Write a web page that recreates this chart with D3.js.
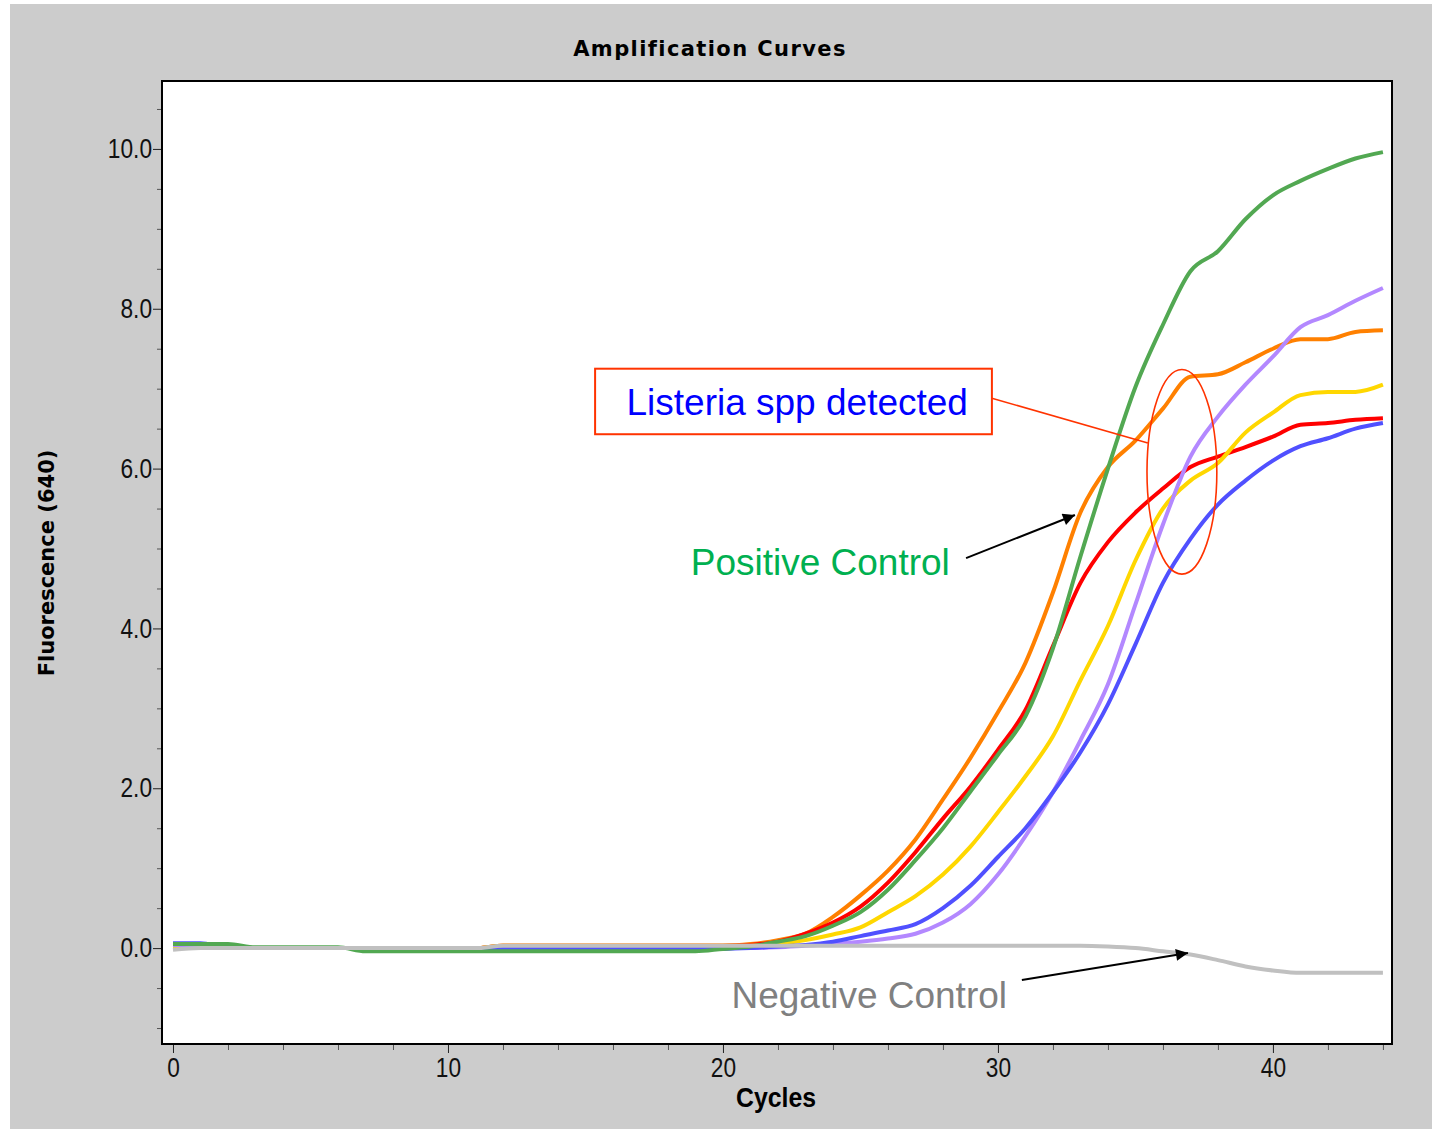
<!DOCTYPE html>
<html>
<head>
<meta charset="utf-8">
<script src="https://cdn.jsdelivr.net/npm/d3@7"></script>
<style>
  body { margin: 0; background: #fff; }
  .tick text { font-family: 'Liberation Sans', Arial, sans-serif; font-size: 27px; fill: #111; }
</style>
</head>
<body>
<div id="chart"></div>
<script>
// cycle numbers and fluorescence (640) readings per sample
var cycles = [0,1,2,3,4,5,6,7,8,9,10,11,12,13,14,15,16,17,18,19,20,21,22,23,24,25,26,27,28,29,30,31,32,33,34,35,36,37,38,39,40,41,42,43,44];

var negativeControl = [-0.02,0,0,0,0,0,0,0,0,0,0,0,0.03,0.03,0.03,0.03,0.03,0.03,0.03,0.03,0.03,0.03,0.03,0.03,0.03,0.03,0.03,0.03,0.03,0.03,0.03,0.03,0.03,0.03,0.02,0,-0.04,-0.08,-0.15,-0.23,-0.28,-0.31,-0.31,-0.31,-0.31];
var sampleBlue = [0.06,0.06,0,0,0,0,0,0,0,0,0,0,0,0,-0.01,-0.01,-0.01,-0.01,0,-0.01,-0.01,0,0.02,0.04,0.08,0.15,0.22,0.3,0.5,0.78,1.14,1.5,1.95,2.45,3.05,3.8,4.57,5.12,5.55,5.85,6.1,6.28,6.38,6.5,6.57];
var sampleViolet = [0.04,0.04,0,0,0,0,0,0,0,0,0,0,-0.01,-0.01,0,0,0,0,0,0,0,0,0.01,0.03,0.05,0.08,0.12,0.18,0.32,0.55,0.92,1.4,1.95,2.6,3.3,4.3,5.3,6.15,6.65,7.05,7.4,7.77,7.92,8.1,8.26];
var sampleYellow = [0,0,0,0,0,0,0,0,0,0,0,0,0.03,0.03,0.03,0.03,0.03,0.03,0.03,0.03,0.03,0.03,0.05,0.1,0.17,0.26,0.45,0.65,0.92,1.27,1.7,2.15,2.65,3.35,4.03,4.85,5.5,5.85,6.07,6.45,6.7,6.92,6.96,6.96,7.05];
var sampleRed = [0,0,0,0,0,0,0,0,0,0,0,0,0.03,0.03,0.03,0.03,0.03,0.03,0.03,0.03,0.03,0.04,0.08,0.18,0.32,0.52,0.82,1.2,1.62,2.02,2.48,2.98,3.78,4.57,5.08,5.45,5.75,6.02,6.15,6.27,6.4,6.55,6.57,6.61,6.63];
var sampleOrange = [0,0,0,0,0,0,0,0,0,0,0,0,0.03,0.03,0.03,0.03,0.03,0.03,0.03,0.03,0.03,0.05,0.1,0.18,0.39,0.66,0.97,1.36,1.86,2.38,2.95,3.57,4.45,5.45,6.02,6.35,6.75,7.15,7.18,7.33,7.5,7.62,7.62,7.71,7.73];
var positiveControl = [0.05,0.05,0.05,0.01,0.01,0.01,0.01,-0.04,-0.04,-0.04,-0.04,-0.04,-0.04,-0.04,-0.04,-0.04,-0.04,-0.04,-0.04,-0.04,-0.01,0.02,0.08,0.15,0.28,0.45,0.73,1.1,1.5,1.96,2.42,2.9,3.75,4.9,6.0,7.02,7.8,8.47,8.72,9.12,9.42,9.6,9.75,9.88,9.96];

// drawing order: later series sit on top
var seriesNames = ["Sample 1", "Sample 2", "Sample 3", "Sample 4", "Sample 5", "Positive Control", "Negative Control"];
var seriesValues = [sampleOrange, sampleRed, sampleYellow, sampleViolet, sampleBlue, positiveControl, negativeControl];
var seriesColors = ["#ff8000", "#ff0000", "#ffd700", "#b388ff", "#5050ff", "#52a852", "#c0c0c0"];

var yMajorTicks = [0, 2, 4, 6, 8, 10];
var xMajorTicks = [0, 10, 20, 30, 40];

var margin = {top: 81, right: 45, bottom: 88, left: 162},
    width = 1437 - margin.left - margin.right,
    height = 1132 - margin.top - margin.bottom;

var svg = d3.select("#chart").append("svg")
    .attr("width", 1437)
    .attr("height", 1132);

// grey window background
svg.append("rect")
    .attr("x", 10).attr("y", 4)
    .attr("width", 1422).attr("height", 1125)
    .attr("fill", "#cccccc");

svg.append("text")
    .attr("x", 710).attr("y", 56)
    .attr("text-anchor", "middle")
    .style("font-family", "'DejaVu Sans', sans-serif")
    .style("font-weight", "bold")
    .style("font-size", "21px")
    .style("letter-spacing", "1.4px")
    .text("Amplification Curves");

var g = svg.append("g")
    .attr("transform", "translate(" + margin.left + "," + margin.top + ")");

g.append("rect")
    .attr("width", width).attr("height", height)
    .attr("fill", "#fff");

var x = d3.scaleLinear().domain([-0.4, 44.33]).range([0, width]);
var y = d3.scaleLinear().domain([-1.2, 10.85]).range([height, 0]);

// minor ticks first, then majors with labels
var yMinor = d3.range(-1, 10.6, 0.5).filter(function(v) { return v % 2 !== 0; });
var xMinor = d3.range(0, 45, 2).filter(function(v) { return v % 10 !== 0; });

g.append("g").attr("class", "y minor")
    .call(d3.axisLeft(y).tickValues(yMinor).tickSize(5).tickFormat(""));
g.append("g").attr("class", "y axis")
    .call(d3.axisLeft(y).tickValues(yMajorTicks).tickSize(9).tickPadding(1).tickFormat(d3.format(".1f")));
g.append("g").attr("class", "x minor")
    .attr("transform", "translate(0," + height + ")")
    .call(d3.axisBottom(x).tickValues(xMinor).tickSize(6).tickFormat(""));
g.append("g").attr("class", "x axis")
    .attr("transform", "translate(0," + height + ")")
    .call(d3.axisBottom(x).tickValues(xMajorTicks).tickSize(9).tickPadding(5).tickFormat(d3.format("d")));

g.selectAll(".domain").remove();
g.selectAll(".minor line").attr("stroke", "#555");
g.selectAll(".axis line").attr("stroke", "#222");

// squeeze the tick labels to look like the narrow instrument font
g.selectAll(".axis text").each(function() {
    var w = this.getComputedTextLength();
    d3.select(this).attr("textLength", w * 0.84).attr("lengthAdjust", "spacingAndGlyphs");
});

var line = d3.line()
    .curve(d3.curveMonotoneX)
    .x(function(d) { return x(d.cycle); })
    .y(function(d) { return y(d.value); });

var curves = seriesNames.map(function(name, i) {
    return {
        name: name,
        color: seriesColors[i],
        values: cycles.map(function(c, j) { return {cycle: c, value: seriesValues[i][j]}; })
    };
});

g.selectAll(".curve")
    .data(curves)
    .enter().append("path")
    .attr("class", "curve")
    .attr("d", function(d) { return line(d.values); })
    .attr("fill", "none")
    .attr("stroke", function(d) { return d.color; })
    .attr("stroke-width", 4);

// plot frame
g.append("rect")
    .attr("width", width).attr("height", height)
    .attr("fill", "none")
    .attr("stroke", "#000")
    .attr("stroke-width", 2);

svg.append("text")
    .attr("transform", "translate(54,563) rotate(-90)")
    .attr("text-anchor", "middle")
    .style("font-family", "'DejaVu Sans', sans-serif")
    .style("font-weight", "bold")
    .style("font-size", "21px")
    .text("Fluorescence (640)");

svg.append("text")
    .attr("x", 776).attr("y", 1107)
    .attr("text-anchor", "middle")
    .attr("textLength", 80)
    .attr("lengthAdjust", "spacingAndGlyphs")
    .style("font-family", "'Liberation Sans', Arial, sans-serif")
    .style("font-weight", "bold")
    .style("font-size", "27px")
    .text("Cycles");

// annotations, placed in data units
svg.append("defs").append("marker")
    .attr("id", "arrow")
    .attr("viewBox", "0 0 10 10")
    .attr("refX", 10).attr("refY", 5)
    .attr("markerWidth", 16).attr("markerHeight", 12)
    .attr("markerUnits", "userSpaceOnUse")
    .attr("orient", "auto")
    .append("path")
    .attr("d", "M0,0L10,5L0,10z")
    .attr("fill", "#000");

var annoFont = "'Liberation Sans', Arial, sans-serif";

g.append("rect")
    .attr("x", x(15.35)).attr("y", y(7.25))
    .attr("width", x(29.78) - x(15.35))
    .attr("height", y(6.43) - y(7.25))
    .attr("fill", "#fff")
    .attr("stroke", "#ff3300")
    .attr("stroke-width", 2);

g.append("text")
    .attr("x", x(22.7)).attr("y", y(6.67))
    .attr("text-anchor", "middle")
    .style("font-family", annoFont)
    .style("font-size", "37px")
    .attr("fill", "#0000ff")
    .text("Listeria spp detected");

g.append("line")
    .attr("x1", x(29.78)).attr("y1", y(6.88))
    .attr("x2", x(35.45)).attr("y2", y(6.32))
    .attr("stroke", "#ff3300")
    .attr("stroke-width", 1.6);

g.append("ellipse")
    .attr("cx", x(36.69)).attr("cy", y(5.96))
    .attr("rx", x(1.27) - x(0)).attr("ry", y(0) - y(1.28))
    .attr("fill", "none")
    .attr("stroke", "#ff3300")
    .attr("stroke-width", 1.6);

g.append("text")
    .attr("x", x(28.25)).attr("y", y(4.67))
    .attr("text-anchor", "end")
    .style("font-family", annoFont)
    .style("font-size", "37px")
    .attr("fill", "#00b050")
    .text("Positive Control");

g.append("line")
    .attr("x1", x(28.84)).attr("y1", y(4.88))
    .attr("x2", x(32.8)).attr("y2", y(5.42))
    .attr("stroke", "#000")
    .attr("stroke-width", 2)
    .attr("marker-end", "url(#arrow)");

g.append("text")
    .attr("x", x(30.33)).attr("y", y(-0.75))
    .attr("text-anchor", "end")
    .style("font-family", annoFont)
    .style("font-size", "37px")
    .attr("fill", "#808080")
    .text("Negative Control");

g.append("line")
    .attr("x1", x(30.87)).attr("y1", y(-0.4))
    .attr("x2", x(36.91)).attr("y2", y(-0.06))
    .attr("stroke", "#000")
    .attr("stroke-width", 2)
    .attr("marker-end", "url(#arrow)");
</script>
</body>
</html>
